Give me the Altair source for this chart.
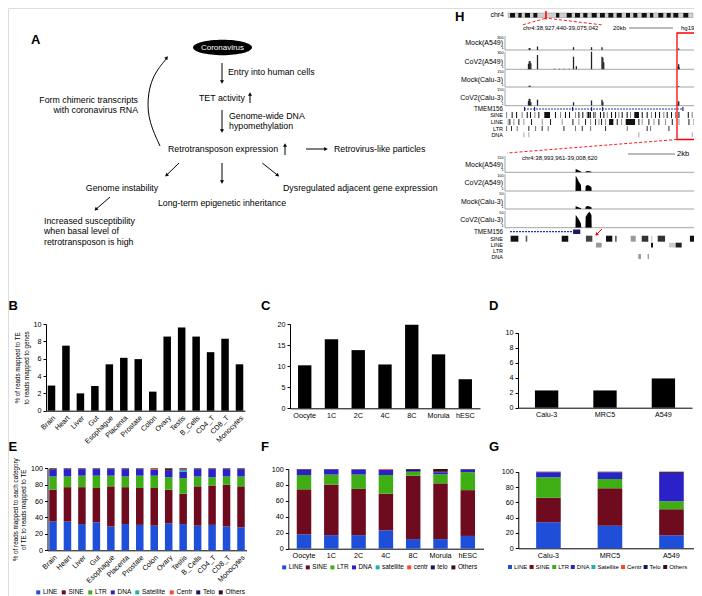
import altair as alt
import pandas as pd

FONT = "Liberation Sans"
CW, CH = 686, 588
OX, OY = 8, 8

# ---------------- data: panel B / C / D ----------------
B_tissues = ["Brain", "Heart", "Liver", "Gut", "Esophague", "Placenta", "Prostate", "Colon",
             "Ovary", "Testis", "B_Cells", "CD4_T", "CD8_T", "Monocytes"]
B_vals = [2.9, 7.5, 2.0, 2.85, 5.35, 6.1, 5.95, 2.2, 8.55, 9.6, 8.55, 6.75, 8.3, 5.35]

C_stages = ["Oocyte", "1C", "2C", "4C", "8C", "Morula", "hESC"]
C_vals = [10.2, 16.4, 13.8, 10.4, 19.8, 12.8, 6.9]

D_cells = ["Calu-3", "MRC5", "A549"]
D_vals = [2.3, 2.3, 3.9]

# ---------------- data: panel E / F / G (stacked %) ----------------
TE_cats_EG = ["LINE", "SINE", "LTR", "DNA", "Satellite", "Centr", "Telo", "Others"]
TE_cats_F = ["LINE", "SINE", "LTR", "DNA", "satellite", "centr", "telo", "Others"]
TE_colors = ["#1f4fd8", "#6e0b1e", "#3fae14", "#2a22c8", "#1fb2a6", "#ff4a1f", "#0d1a5e", "#3a0d14"]

E_LINE = [35, 35, 32, 34, 29, 32, 31, 30, 33, 32, 30, 31, 29, 28]
E_SINE = [39, 42, 45, 42, 49, 45, 45, 46, 41, 37, 48, 48, 51, 50]
E_LTR = [16, 13, 14, 15, 13, 13, 15, 15, 15, 19, 12, 10, 10, 12]
E_DNA = [8, 9, 8, 8, 8, 9, 8, 7, 8, 8, 9, 10, 9, 9]
E_Sat = [0, 0, 0, 0, 0, 0, 0, 0, 0, 2, 0, 0, 0, 0]
E_Centr = [0, 0, 0, 0, 0, 0, 0, 1, 0, 0.5, 0, 0, 0, 0]
E_Telo = [0.5, 0.3, 0.3, 0.3, 0.3, 0.3, 0.3, 0.3, 1, 0.5, 0.3, 0.3, 0.3, 0.3]
E_Others = [1.5, 0.7, 0.7, 0.7, 0.7, 0.7, 0.7, 0.7, 2, 1, 0.7, 0.7, 0.7, 0.7]

F_LINE = [18, 17, 17, 23, 12, 12, 16]
F_SINE = [56.5, 63.5, 58, 46, 79.5, 70, 57.5]
F_LTR = [18, 12.5, 18, 23.5, 5, 11.3, 22.5]
F_DNA = [6.5, 6.5, 6, 6.5, 1, 2.5, 3]
F_sat = [0, 0, 0.3, 0, 0, 0, 0]
F_centr = [0, 0, 0, 1, 0, 0, 0]
F_telo = [0.3, 0, 0.2, 0, 1.5, 0.7, 0.3]
F_Others = [0.7, 0.5, 0.5, 0, 1, 3.5, 0.7]

G_LINE = [34, 29.5, 17]
G_SINE = [32, 48.8, 34]
G_LTR = [26.7, 12.2, 10.4]
G_DNA = [6.5, 8.7, 36.9]
G_Sat = [0, 0, 0]
G_Centr = [0, 0, 0]
G_Telo = [0.3, 0.3, 0.2]
G_Others = [0.5, 0.5, 1.5]

# ---------------- data: panel A (diagram) ----------------
A_left = [("Entry into human cells", 228, 72), ("TET activity", 199, 98),
          ("Genome-wide DNA", 229, 116), ("hypomethylation", 229, 126),
          ("Retrotransposon expression", 168, 149), ("Retrovirus-like particles", 334, 149),
          ("Dysregulated adjacent gene expression", 283, 188),
          ("Increased susceptibility", 44, 221), ("when basal level of", 44, 231),
          ("retrotransposon is high", 44, 242)]
A_right = [("Form chimeric transcripts", 138, 100), ("with coronavirus RNA", 138, 110)]
A_center = [("Genome instability", 122, 188), ("Long-term epigenetic inheritance", 222, 203)]
A_arrows = [(222, 63, 222, 82), (222, 110, 222, 131), (306, 149, 326, 149),
            (179, 163, 166.4, 175.3), (222, 163, 222, 182), (262.3, 163, 277.8, 175.4),
            (110, 197, 95.8, 209.4), (250, 103, 250, 94), (285, 155, 285, 145)]
A_heads = [(222, 82, 180), (222, 131, 180), (326, 149, 90), (166.4, 175.3, 225),
           (222, 182, 180), (277.8, 175.4, 129), (95.8, 209.4, 228), (250, 94, 0), (285, 145, 0),
           (166.8, 57.6, 38)]
CURVE_X = [160, 149, 147, 152, 167]
CURVE_Y = [146, 122, 100, 76, 58]

LETTERS = [("A", 31, 40), ("H", 455, 16.5), ("B", 8.5, 306), ("C", 261, 306), ("D", 489, 306),
           ("E", 8.5, 447), ("F", 261, 447), ("G", 489, 447)]

# ---------------- data: panel H (genome browser) ----------------
CHR4_LEN = 191.0
IDEO_BANDS = [(2.1, 7.2), (10.7, 14.1), (17.5, 22.7), (26.2, 30.3), (49.6, 53.0), (60.6, 65.8),
              (69.2, 74.3), (77.7, 81.9), (86.4, 91.6), (95.0, 100.0), (103.6, 108.7),
              (112.2, 117.4), (121.8, 126.0), (129.4, 133.5), (138.0, 143.2), (146.6, 150.0),
              (155.2, 160.3), (163.8, 168.0), (170.7, 175.8), (181.0, 186.1)]
IDEO_HIGHLIGHT = [(38.4, 40.0)]

TOP_KB = 147.6     # chr4:38,927,440-39,075,042
ZOOM_KB = 14.66    # chr4:38,993,961-39,008,620

TOP_LABELS = ["Mock(A549)", "CoV2(A549)", "Mock(Calu-3)", "CoV2(Calu-3)"]
TOP_MAX = [300, 300, 150, 150]
TOP_POS = [
    [15.6, 16.2, 22.3, 51.5, 66.1, 74.6, 136.8],
    [15.0, 15.6, 16.2, 16.9, 22.3, 36.0, 40.0, 44.0, 48.0, 51.5, 53.8, 66.1, 74.6, 75.3, 76.0,
     136.4, 136.8, 137.2],
    [15.6, 16.2, 136.8],
    [15.0, 15.6, 16.2, 16.9, 22.3, 51.5, 66.1, 74.6, 75.3, 136.4, 136.8],
]
TOP_VAL = [
    [45, 40, 75, 60, 60, 60, 30],
    [90, 135, 140, 105, 243, 9, 9, 9, 9, 216, 54, 300, 216, 195, 120, 45, 84, 30],
    [12, 10, 8],
    [40, 60, 55, 30, 52, 30, 45, 52, 35, 20, 38],
]
TOP_SINE = [0.8, 5.1, 8.5, 12.8, 16.7, 19.2, 22.6, 25.6, 38.4, 42.3, 46.1, 49.2, 53.8, 56.4,
            59.4, 62.8, 65.3, 67.9, 69.2, 73.0, 75.6, 78.2, 81.5, 84.6, 87.1, 89.7, 93.5, 96.1,
            105.1, 108.9, 112.2, 115.3, 118.4, 121.7, 124.3, 127.6, 130.7, 133.3, 140.5, 143.5, 146.1]
TOP_SINE_BLOCKS = [(30.2, 34.6), (99.4, 103.0), (63.5, 65.0)]
TOP_LINE = [2.05, 3.33, 6.41, 10.25, 14.1, 20.0, 28.2, 34.6, 43.6, 51.8, 56.4, 61.5, 65.4, 69.2,
            71.8, 73.8, 76.9, 85.9, 89.2, 102.5, 105.1, 110.2, 114.1, 117.9, 123.0, 128.2, 133.3,
            141.0, 144.8]
TOP_LINE_BLOCKS = [(80.0, 83.3), (92.8, 100.0)]
TOP_LTR = [0.8, 4.6, 9.0, 17.9, 23.1, 28.2, 32.8, 44.9, 53.8, 59.0, 65.4, 76.9, 93.6, 108.9,
           111.5, 125.6]
TOP_DNA = [14.1, 17.9, 102.5, 143.5]
TOP_GENE = (14.6, 136.9)
TOP_EXONS = [14.6, 22.3, 51.5, 66.1, 74.6, 136.3]

ZOOM_LABELS = ["Mock(A549)", "CoV2(A549)", "Mock(Calu-3)", "CoV2(Calu-3)"]
ZOOM_MAX = [150, 100, 50, 50]
ZOOM_POS = [0, 5.38, 5.40, 5.5, 5.6, 5.7, 5.8, 5.82, 6.14, 6.16, 6.3, 6.45, 6.6, 6.62, 14.66]
ZOOM_VAL = [
    [0, 0, 30, 25, 18, 12, 8, 0, 0, 8, 12, 10, 6, 0, 0],
    [0, 0, 92, 80, 62, 48, 36, 0, 0, 30, 36, 32, 22, 0, 0],
    [0, 0, 9, 7, 5, 4, 3, 0, 0, 7, 9, 8, 5, 0, 0],
    [0, 0, 38, 33, 27, 20, 12, 0, 0, 32, 42, 48, 38, 0, 0],
]
ZOOM_SINE = [(0.43, 1.02, "#111"), (1.58, 1.70, "#555"), (4.33, 4.83, "#111"), (6.18, 6.67, "#444"),
             (7.71, 8.19, "#111"), (8.40, 8.53, "#666"), (9.60, 9.98, "#999"), (10.44, 10.94, "#333"),
             (11.15, 11.25, "#ccc"), (11.66, 12.22, "#333"), (14.12, 14.64, "#111")]
ZOOM_LINE = [(6.95, 7.38, "#999"), (11.15, 11.30, "#111"), (12.52, 13.03, "#ccc"), (13.03, 13.49, "#222")]
ZOOM_DNA = [(10.18, 10.38, "#999"), (10.89, 10.99, "#999")]
ZOOM_GENE = (0.38, 5.2)
ZOOM_EXON = (5.2, 5.75)

# ---------------- helpers ----------------
def XR(a, b):
    return [a - OX, b - OX]


def YR(bottom, top):
    return [bottom - OY, top - OY]


def px_x(f):
    return alt.X(f, type="quantitative",
                 scale=alt.Scale(domain=[0, 702], range=[-OX, 702 - OX], nice=False, zero=False),
                 axis=None)


def px_y(f):
    return alt.Y(f, type="quantitative",
                 scale=alt.Scale(domain=[0, 596], range=[-OY, 596 - OY], nice=False, zero=False),
                 axis=None)


def texts(rows, align="left", size=8.8, weight="normal", color="black"):
    df = pd.DataFrame(rows, columns=["t", "x", "y"])
    return alt.Chart(df).mark_text(align=align, baseline="middle", font=FONT, fontSize=size,
                                   fontWeight=weight, color=color).encode(
        x=px_x("x"), y=px_y("y"), text="t:N")


def segs(rows, color="black", width=1.0, dash=None):
    df = pd.DataFrame(rows, columns=["x", "y", "x2", "y2"])
    mk = dict(color=color, strokeWidth=width)
    if dash:
        mk["strokeDash"] = dash
    return alt.Chart(df).mark_rule(**mk).encode(
        x=px_x("x"), y=px_y("y"), x2=alt.X2("x2"), y2=alt.Y2("y2"))


def heads(rows, color="black", size=16):
    df = pd.DataFrame(rows, columns=["x", "y", "a"])
    return alt.Chart(df).mark_point(shape="triangle-up", filled=True, color=color, size=size,
                                    opacity=1, strokeWidth=0).encode(
        x=px_x("x"), y=px_y("y"), angle=alt.Angle("a:Q", scale=None))


def prect(rows, fill=None, stroke=None, width=1.0):
    df = pd.DataFrame(rows, columns=["x", "y", "x2", "y2"])
    mk = {}
    if fill:
        mk["fill"] = fill
    else:
        mk["fillOpacity"] = 0
    if stroke:
        mk["stroke"] = stroke
        mk["strokeWidth"] = width
    return alt.Chart(df).mark_rect(**mk).encode(
        x=px_x("x"), y=px_y("y"), x2=alt.X2("x2"), y2=alt.Y2("y2"))


AXS = dict(domainColor="black", domainWidth=1, tickColor="black", tickWidth=1,
           labelColor="black", labelFont=FONT, labelFontSize=7.2, grid=False,
           titleFont=FONT, titleFontSize=6.3, titleFontWeight="normal", titleColor="black")


def bar_panel(cats, vals, xr_px, p_in, p_out, base, top, ydom, yvals, axis_x, angle=0, ytitle=None):
    df = pd.DataFrame({"c": cats, "v": vals})
    xaxis = alt.Axis(orient="bottom", offset=(base - OY) - CH, ticks=False, labelAngle=angle,
                     title=None, labelPadding=3, labelOverlap=False, **AXS)
    yaxis = alt.Axis(orient="left", offset=-(axis_x - OX), values=yvals, tickSize=3, labelPadding=2,
                     title=ytitle, titlePadding=4, labelOverlap=False, **AXS)
    return alt.Chart(df).mark_bar(color="black").encode(
        x=alt.X("c:N", sort=cats, scale=alt.Scale(range=XR(*xr_px), paddingInner=p_in,
                                                    paddingOuter=p_out), axis=xaxis),
        y=alt.Y("v:Q", scale=alt.Scale(domain=ydom, range=YR(base, top), nice=False, zero=True),
                axis=yaxis))


def stacked_panel(samples, cats, series, xr_px, p_in, p_out, base, top, axis_x, leg_xy,
                  angle=0, ytitle=None, leg_font=6.5, leg_pad=2.5, leg_off=1.5):
    rows = []
    for ci, (cat, vals) in enumerate(zip(cats, series)):
        for s, v in zip(samples, vals):
            rows.append({"s": s, "cat": cat, "v": v, "o": ci})
    df = pd.DataFrame(rows)
    xaxis = alt.Axis(orient="bottom", offset=(base - OY) - CH, ticks=False, labelAngle=angle,
                     title=None, labelPadding=3, labelOverlap=False, **AXS)
    yaxis = alt.Axis(orient="left", offset=-(axis_x - OX), values=[0, 20, 40, 60, 80, 100],
                     tickSize=3, labelPadding=2, title=ytitle, titlePadding=4, labelOverlap=False,
                     **AXS)
    legend = alt.Legend(orient="none", legendX=leg_xy[0] - OX, legendY=leg_xy[1] - OY,
                        direction="horizontal", columns=8, title=None, symbolType="square",
                        symbolSize=16, symbolStrokeWidth=0, symbolOpacity=1, labelFont=FONT,
                        labelFontSize=leg_font, labelColor="black", labelOffset=leg_off,
                        columnPadding=leg_pad, padding=0, rowPadding=0)
    return alt.Chart(df).mark_bar().encode(
        x=alt.X("s:N", sort=samples, scale=alt.Scale(range=XR(*xr_px), paddingInner=p_in,
                                                       paddingOuter=p_out), axis=xaxis),
        y=alt.Y("v:Q", stack="zero", scale=alt.Scale(domain=[0, 100], range=YR(base, top),
                                                     nice=False), axis=yaxis),
        color=alt.Color("cat:N", scale=alt.Scale(domain=cats, range=TE_colors), legend=legend),
        order=alt.Order("o:Q", sort="ascending"))


def kb_x(field, dom, rng):
    return alt.X(field, type="quantitative",
                 scale=alt.Scale(domain=dom, range=XR(*rng), nice=False, zero=False), axis=None)


def feature_rows(items, dom, rng, ytop, ybot):
    df = pd.DataFrame(items, columns=["s", "e", "c"])
    return alt.Chart(df).mark_rect().encode(
        x=kb_x("s", dom, rng), x2=alt.X2("e"),
        y=alt.value(ytop - OY), y2=alt.value(ybot - OY),
        color=alt.Color("c:N", scale=None))


layers = []

# ================= Panel A =================
layers.append(alt.Chart(pd.DataFrame({"x": [222.5], "y": [47.5]})).mark_point(
    shape="M -1 0 A 1 0.26 0 1 1 1 0 A 1 0.26 0 1 1 -1 0 Z", filled=True, color="black",
    size=3481, opacity=1, strokeWidth=0).encode(x=px_x("x"), y=px_y("y")))
layers.append(texts([("Coronavirus", 222.5, 47.5)], "center", 8, color="white"))
layers.append(texts(A_left, "left", 8.8))
layers.append(texts(A_right, "right", 8.8))
layers.append(texts(A_center, "center", 8.8))
layers.append(segs(A_arrows))
layers.append(alt.Chart(pd.DataFrame({"x": CURVE_X, "y": CURVE_Y, "o": list(range(len(CURVE_X)))}))
              .mark_line(color="black", strokeWidth=1, interpolate="basis")
              .encode(x=px_x("x"), y=px_y("y"), order="o:Q"))
layers.append(heads(A_heads))

# ================= Panel letters =================
layers.append(texts(LETTERS, "left", 13, "bold"))

# ================= Panel H =================
IDEO_RNG = (508, 693)
layers.append(prect([(508, 13, 693, 17.5)], fill="#d0d0d0", stroke="#888", width=0.5))
layers.append(alt.Chart(pd.DataFrame(IDEO_BANDS, columns=["s", "e"])).mark_rect(color="#111").encode(
    x=kb_x("s", [0, CHR4_LEN], IDEO_RNG), x2=alt.X2("e"), y=alt.value(13 - OY), y2=alt.value(17.5 - OY)))
layers.append(alt.Chart(pd.DataFrame(IDEO_HIGHLIGHT, columns=["s", "e"])).mark_rect(color="red").encode(
    x=kb_x("s", [0, CHR4_LEN], IDEO_RNG), x2=alt.X2("e"), y=alt.value(11 - OY), y2=alt.value(19.5 - OY)))
layers.append(texts([("chr4", 504, 15)], "right", 7))
layers.append(segs([(545, 18.5, 522, 25), (549, 18.5, 603, 25), (677, 139.5, 507, 153),
                    (697, 139.5, 702, 158)], color="red", width=0.9, dash=[3, 2]))
layers.append(texts([("chr4:38,927,440-39,075,042", 523, 28), ("20kb", 613, 28), ("hg19", 681, 28),
                     ("chr4:38,993,961-39,008,620", 522, 158)], "left", 6))
layers.append(texts([("2kb", 677, 154)], "left", 7.5))
layers.append(segs([(629, 28, 673, 28), (628, 154, 675, 154)], color="#555", width=0.8))

TRK_X = (505, 697)
top_geom = [(50, 36, 43), (69.3, 51.7, 62), (87, 70, 80), (105.7, 88.3, 98)]
zoom_geom = [(172.3, 156, 165), (191, 174.3, 183), (209, 192.7, 202), (227.7, 211, 220)]

lbl_rows, small_rows, line_rows = [], [], []
for i in range(4):
    base, top, ly = top_geom[i]
    lbl_rows.append((TOP_LABELS[i], 503, ly))
    small_rows += [(str(TOP_MAX[i]), 503.5, top + 1.5), ("1", 503.5, base - 2)]
    line_rows += [(505, base, 697, base), (505, top, 505, base)]
    df = pd.DataFrame({"p": TOP_POS[i], "v": TOP_VAL[i]})
    layers.append(alt.Chart(df).mark_bar(color="#222", size=1.3, orient="vertical").encode(
        x=kb_x("p", [0, TOP_KB], TRK_X),
        y=alt.Y("v:Q", scale=alt.Scale(domain=[0, TOP_MAX[i]], range=YR(base, top), nice=False,
                                       zero=True), axis=None)))
for i in range(4):
    base, top, ly = zoom_geom[i]
    lbl_rows.append((ZOOM_LABELS[i], 503, ly))
    small_rows += [(str(ZOOM_MAX[i]), 503.5, top + 1.5), ("1", 503.5, base - 2)]
    line_rows += [(505, base, 697, base), (505, top, 505, base)]
    df = pd.DataFrame({"p": ZOOM_POS, "v": ZOOM_VAL[i]})
    layers.append(alt.Chart(df).mark_area(color="black", opacity=1).encode(
        x=kb_x("p", [0, ZOOM_KB], TRK_X),
        y=alt.Y("v:Q", scale=alt.Scale(domain=[0, ZOOM_MAX[i]], range=YR(base, top), nice=False,
                                       zero=True), axis=None)))
layers.append(segs(line_rows, color="#666", width=0.6))
layers.append(texts(lbl_rows, "right", 7))
layers.append(texts(small_rows, "right", 3.8))
layers.append(texts([("TMEM156", 503, 109), ("TMEM156", 503, 231.5)], "right", 6.3))
layers.append(texts([("SINE", 503, 115), ("LINE", 503, 121.8), ("LTR", 503, 128.5), ("DNA", 503, 134.8),
                     ("SINE", 503, 238.5), ("LINE", 503, 245), ("LTR", 503, 251), ("DNA", 503, 257)],
                    "right", 5.5))

# top gene + features
tdom = [0, TOP_KB]
layers.append(alt.Chart(pd.DataFrame([TOP_GENE], columns=["s", "e"])).mark_rule(
    color="#2233aa", strokeWidth=1, strokeDash=[2, 1]).encode(
    x=kb_x("s", tdom, TRK_X), x2=alt.X2("e"), y=alt.value(109 - OY)))
layers.append(feature_rows([(p, p + 0.9, "#1a1a88") for p in TOP_EXONS], tdom, TRK_X, 107, 111))
sine_items = [(p, p + 0.8, "#111" if k % 3 else "#888") for k, p in enumerate(TOP_SINE)]
sine_items += [(s, e, "#111") for s, e in TOP_SINE_BLOCKS]
line_items = [(p, p + 0.8, "#222" if k % 2 else "#999") for k, p in enumerate(TOP_LINE)]
line_items += [(s, e, "#111") for s, e in TOP_LINE_BLOCKS]
ltr_items = [(p, p + 0.8, "#333" if k % 2 else "#777") for k, p in enumerate(TOP_LTR)]
dna_items = [(p, p + 0.8, "#aaa") for p in TOP_DNA]
layers.append(feature_rows(sine_items, tdom, TRK_X, 112, 118))
layers.append(feature_rows(line_items, tdom, TRK_X, 119, 125))
layers.append(feature_rows(ltr_items, tdom, TRK_X, 126, 131))
layers.append(feature_rows(dna_items, tdom, TRK_X, 132.3, 137.3))

# zoom gene + features
zdom = [0, ZOOM_KB]
layers.append(alt.Chart(pd.DataFrame([ZOOM_GENE], columns=["s", "e"])).mark_rule(
    color="#2233aa", strokeWidth=1.2, strokeDash=[2, 1]).encode(
    x=kb_x("s", zdom, TRK_X), x2=alt.X2("e"), y=alt.value(231.7 - OY)))
layers.append(feature_rows([(ZOOM_EXON[0], ZOOM_EXON[1], "#1a1a66")], zdom, TRK_X, 229.5, 234))
layers.append(feature_rows(ZOOM_SINE, zdom, TRK_X, 235.7, 241.7))
layers.append(feature_rows(ZOOM_LINE, zdom, TRK_X, 242.7, 247.5))
layers.append(feature_rows(ZOOM_DNA, zdom, TRK_X, 254, 259))

# red box + red arrow
layers.append(prect([(677, 33, 697, 139.5)], stroke="red", width=1.3))
layers.append(segs([(602, 229, 596.5, 234.5)], color="red", width=1))
layers.append(heads([(596.5, 234.5, 225)], color="red", size=14))

# ================= Panels B, C, D =================
layers.append(bar_panel(B_tissues, B_vals, (46, 245), 0.48, 0.12, 410.7, 324, [0, 10],
                        [0, 2, 4, 6, 8, 10], 46, angle=315,
                        ytitle=["% of reads mapped to TE", "to reads mapped to genes"]))
layers.append(bar_panel(C_stages, C_vals, (290, 480), 0.5, 0.3, 408.3, 324, [0, 20],
                        [0, 5, 10, 15, 20], 290))
layers.append(bar_panel(D_cells, D_vals, (518, 692), 0.6, 0.29, 407.7, 332.7, [0, 10],
                        [0, 2, 4, 6, 8, 10], 518))

# ================= Panels E, F, G =================
layers.append(stacked_panel(B_tissues, TE_cats_EG,
                            [E_LINE, E_SINE, E_LTR, E_DNA, E_Sat, E_Centr, E_Telo, E_Others],
                            (47.5, 246.5), 0.48, 0.12, 550.3, 468.3, 47.5, (35, 589), angle=315,
                            ytitle=["% of reads mapped to each category", "of TE to reads mapped to TE"]))
layers.append(stacked_panel(C_stages, TE_cats_F,
                            [F_LINE, F_SINE, F_LTR, F_DNA, F_sat, F_centr, F_telo, F_Others],
                            (288.3, 483.5), 0.47, 0.31, 548.7, 469, 288.3, (281, 564),
                            leg_font=6.4, leg_pad=1.6, leg_off=1.3))
layers.append(stacked_panel(D_cells, TE_cats_EG,
                            [G_LINE, G_SINE, G_LTR, G_DNA, G_Sat, G_Centr, G_Telo, G_Others],
                            (518.3, 701.6), 0.6, 0.29, 548.3, 471.7, 518.3, (507, 564),
                            leg_font=6.0, leg_pad=0.6, leg_off=1.0))

chart = alt.layer(*layers).resolve_scale(
    x="independent", y="independent", color="independent"
).resolve_axis(x="independent", y="independent").resolve_legend(color="independent").properties(
    width=CW, height=CH, autosize=alt.AutoSizeParams(type="none"), padding=0
).configure_view(stroke=None).configure(font=FONT, background="white")

chart.save("out.html", embed_options={"renderer": "svg", "actions": False})
